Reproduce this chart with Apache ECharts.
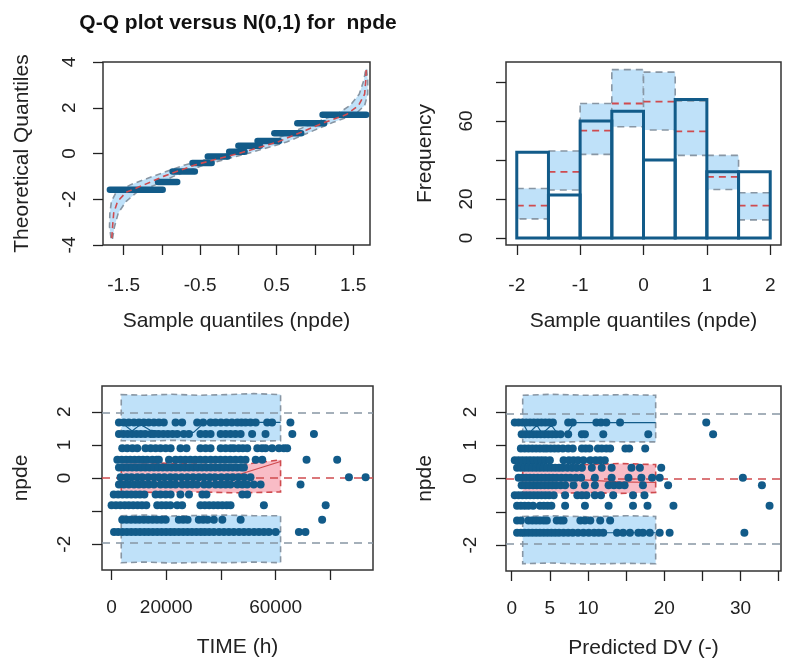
<!DOCTYPE html>
<html>
<head>
<meta charset="utf-8">
<script src="https://cdn.jsdelivr.net/npm/echarts@6.0.0/dist/echarts.min.js"></script>
<style>
  html, body { margin: 0; padding: 0; background: #fff; }
  #chart { width: 786px; height: 664px; }
</style>
</head>
<body>
<div id="chart"></div>
<script>
// ---- QQ plot: observed npde steps (from, to, level)
var qqStepFrom = [-1.68, -1.05, -0.86, -0.60, -0.40, -0.12, 0.00, 0.25, 0.47, 0.77, 1.10];
var qqStepTo   = [-0.99, -0.80, -0.57, -0.35, -0.14, 0.08, 0.28, 0.53, 0.82, 1.12, 1.67];
var qqStepY    = [-1.59, -1.25, -0.79, -0.42, -0.13, 0.08, 0.34, 0.55, 0.89, 1.32, 1.69];

// ---- QQ plot: simulated prediction band, read along theoretical axis
var qqBandY     = [-3.7, -3.2, -2.6, -2.1, -1.7, -1.35, -1.0, -0.5, 0, 0.5, 1.0, 1.35, 1.7, 2.1, 2.6, 3.2, 3.7];
var qqBandLeft  = [-1.665, -1.685, -1.68, -1.66, -1.6, -1.4, -1.12, -0.7, -0.12, 0.39, 0.75, 1.0, 1.28, 1.46, 1.58, 1.64, 1.665];
var qqBandMed   = [-1.655, -1.645, -1.63, -1.58, -1.47, -1.22, -0.98, -0.57, 0, 0.51, 0.87, 1.12, 1.41, 1.57, 1.65, 1.665, 1.67];
var qqBandRight = [-1.645, -1.62, -1.57, -1.47, -1.33, -1.07, -0.85, -0.45, 0.12, 0.63, 0.98, 1.23, 1.52, 1.65, 1.69, 1.69, 1.675];

// ---- histogram
var binLo   = [-2, -1.5, -1, -0.5, 0, 0.5, 1, 1.5];
var binHi   = [-1.5, -1, -0.5, 0, 0.5, 1, 1.5, 2];
var binObs  = [44, 22, 60, 65, 40, 71, 34, 34];
var binPiLo = [9.8, 24.6, 42.9, 57.1, 55.4, 42.4, 24.9, 9.3];
var binPiMd = [16.6, 33.9, 55.1, 69, 70, 54.7, 31.4, 16.6];
var binPiHi = [25.4, 44.6, 69, 86.4, 85.1, 70.3, 42.4, 23.2];

// ---- npde levels for the scatter panels (top to bottom)
var npdeLevels = [1.68, 1.33, 0.9, 0.55, 0.32, 0.02, -0.2, -0.5, -0.82, -1.26, -1.63];

// TIME (h) of each point, one row per npde level
var timeRows = [
  [2700, 4500, 6300, 8200, 10000, 11800, 13600, 15500, 17300, 19100, 23400, 25800, 31300, 33500, 36200, 38000, 40000, 42000, 44000, 46000, 47500, 49000, 50800, 52700, 56900, 58700, 65400],
  [2700, 4300, 5900, 7500, 9100, 10700, 12300, 14300, 15500, 17200, 18900, 20600, 22300, 24000, 26400, 28300, 32500, 34400, 36200, 39900, 41700, 43500, 45300, 47200, 51400, 56300, 66100, 74000],
  [3900, 5700, 7600, 9400, 12400, 14300, 16100, 17900, 19800, 21600, 25200, 27400, 32500, 34400, 36200, 39900, 41700, 43500, 44700, 46500, 48000, 49600, 53300, 55000, 56300, 58700, 61200, 63000, 64200],
  [2100, 3700, 5300, 6800, 8400, 10000, 11500, 13000, 14900, 16500, 17300, 21000, 23400, 25200, 27000, 28800, 30600, 32400, 34300, 36200, 38000, 39800, 41600, 43400, 45300, 47200, 49000, 52700, 55100, 71300, 82500],
  [2700, 4300, 5900, 7500, 9100, 10700, 12300, 13900, 15500, 17100, 18700, 20300, 21900, 23500, 25100, 26700, 28300, 29900, 31500, 33100, 34700, 36300, 37900, 39500, 41100, 42700, 44300, 45900, 47500, 48400],
  [3300, 5500, 7300, 9400, 11200, 13400, 15500, 17300, 19300, 21500, 23400, 25600, 27700, 29800, 31900, 33800, 35900, 37800, 40100, 42300, 44300, 46400, 48500, 50800, 86800, 92900],
  [2700, 4500, 6300, 8200, 10000, 11800, 13600, 15500, 17900, 19800, 21600, 23400, 25800, 27700, 29500, 31300, 33800, 35600, 38000, 39900, 41700, 43500, 46000, 47800, 49600, 52000, 54500, 69100],
  [800, 2400, 4000, 5600, 7200, 8800, 10400, 12000, 16100, 17900, 19800, 21600, 25200, 28300, 33200, 34700, 47800, 49600],
  [0, 1600, 3200, 4800, 6300, 7900, 9500, 11100, 12700, 16700, 18300, 19900, 21500, 24000, 25800, 32500, 34100, 35700, 37300, 38900, 40500, 42100, 43500, 55700, 78300],
  [3900, 5500, 7100, 8700, 10200, 11800, 13400, 15000, 16600, 18200, 19800, 24600, 26200, 27800, 31900, 33500, 35100, 37400, 40500, 47200, 77000],
  [900, 2400, 4000, 5600, 7200, 8800, 10400, 12000, 13500, 15100, 16700, 18300, 19900, 21500, 23000, 24600, 26200, 27800, 29400, 31000, 32600, 34100, 35700, 37400, 39300, 41100, 42900, 44700, 46600, 48400, 50200, 52100, 53900, 55700, 57500, 60000, 68500, 70900]
];

// Predicted DV of each point, one row per npde level
var predRows = [
  [0.4, 0.9, 1.4, 1.9, 2.4, 2.9, 3.4, 3.9, 4.4, 4.9, 5.4, 7.4, 8.0, 11.1, 11.7, 12.4, 14.2, 25.5],
  [1.3, 1.8, 2.3, 2.8, 3.3, 3.8, 4.3, 4.8, 5.3, 5.8, 6.4, 7.4, 9.2, 9.6, 12.0, 17.9, 26.4],
  [1.2, 1.7, 2.2, 2.7, 3.2, 3.7, 4.2, 4.6, 5.1, 5.6, 6.1, 6.7, 7.4, 8.0, 9.2, 9.7, 10.2, 11.3, 11.8, 12.4, 12.9, 14.9, 15.4, 17.5],
  [0.4, 0.9, 1.4, 1.9, 2.4, 2.9, 3.4, 3.9, 4.4, 5.0, 6.8, 7.5, 8.1, 8.7, 9.4, 10.3, 11.0, 11.6, 12.2],
  [0.7, 1.2, 1.7, 2.2, 2.7, 3.2, 3.7, 4.2, 4.7, 5.2, 5.7, 6.2, 6.7, 7.3, 7.9, 8.5, 9.2, 10.5, 11.8, 13.1, 15.7, 16.8, 19.6],
  [0.9, 1.4, 1.9, 2.4, 2.9, 3.4, 3.9, 4.4, 4.9, 5.4, 5.9, 6.5, 7.1, 7.7, 8.4, 9.1, 10.9, 13.1, 15.3, 17.0, 18.4, 19.4, 30.3],
  [1.3, 1.8, 2.3, 2.8, 3.3, 3.8, 4.3, 4.8, 5.3, 5.8, 6.4, 7.0, 8.1, 9.6, 10.9, 12.7, 13.4, 14.1, 14.8, 17.2, 20.5, 32.8],
  [0.4, 0.9, 1.4, 1.9, 2.4, 2.9, 3.4, 3.9, 4.4, 4.9, 5.5, 7.0, 8.6, 9.2, 9.8, 10.9, 11.7, 13.3, 15.9, 17.4],
  [0.7, 1.2, 1.7, 2.2, 2.8, 3.7, 4.2, 4.7, 5.2, 7.0, 9.6, 12.7, 15.9, 17.8, 21.2, 33.8],
  [0.7, 1.2, 2.2, 2.7, 3.2, 3.7, 4.2, 4.6, 5.9, 6.4, 6.8, 9.0, 9.6, 10.3, 11.6, 12.9],
  [0.7, 1.2, 1.7, 2.2, 2.7, 3.2, 3.7, 4.2, 4.7, 5.2, 5.7, 6.2, 6.8, 7.4, 8.0, 8.7, 9.4, 10.1, 10.8, 11.4, 12.0, 13.8, 14.6, 15.5, 16.6, 17.2, 18.1, 19.4, 20.7, 30.5]
];

// ---- prediction bands vs TIME
var timeBandX   = [3540, 12000, 22000, 32000, 42000, 52000, 61800];
var timeUpLo    = [1.13, 1.11, 1.14, 1.12, 1.13, 1.11, 1.13];
var timeUpHi    = [2.52, 2.5, 2.53, 2.5, 2.52, 2.55, 2.52];
var timeDnLo    = [-2.56, -2.54, -2.57, -2.55, -2.56, -2.54, -2.56];
var timeDnHi    = [-1.14, -1.12, -1.15, -1.13, -1.12, -1.14, -1.14];
var timeMidX    = [3540, 17900, 30000, 47200, 61800];
var timeMidLo   = [-0.42, -0.44, -0.42, -0.45, -0.42];
var timeMidHi   = [0.48, 0.45, 0.42, 0.4, 0.55];
var timeMidMed  = [0.1, 0.05, 0.08, 0.12, 0.5];
var timeUpMedX  = [3540, 7500, 10600, 14000, 20000, 30000, 34000, 61800];
var timeUpMedY  = [1.68, 1.42, 1.62, 1.45, 1.38, 1.38, 1.68, 1.68];

// ---- prediction bands vs predicted DV
var predBandX   = [1.44, 5, 10, 15, 18.87];
var predUpLo    = [1.1, 1.08, 1.12, 1.1, 1.1];
var predUpHi    = [2.5, 2.53, 2.5, 2.52, 2.5];
var predDnLo    = [-2.56, -2.54, -2.57, -2.55, -2.56];
var predDnHi    = [-1.14, -1.12, -1.15, -1.12, -1.14];
var predMidX    = [1.44, 6, 10, 14, 18.87];
var predMidLo   = [-0.45, -0.45, -0.42, -0.45, -0.42];
var predMidHi   = [0.38, 0.38, 0.42, 0.45, 0.42];
var predMidMed  = [0.0, -0.02, -0.05, -0.1, -0.12];
var predUpMedX  = [1.44, 2.2, 3.3, 4.0, 5.2, 6.0, 7.2, 8.2, 18.87];
var predUpMedY  = [1.68, 1.35, 1.6, 1.35, 1.6, 1.35, 1.35, 1.68, 1.68];

var fontFam = 'Liberation Sans, Arial, sans-serif';
var ink = '#222';
var dotBlue = '#125b89';
var lightBlue = '#bfe1f9';
var pink = '#f9bcc6';
var grayDash = '#8896a4';
var redDash = '#cf4b4f';

var chart = echarts.init(document.getElementById('chart'), null, { renderer: 'canvas' });

function zip(xs, ys) {
    return xs.map(function (x, i) { return [x, ys[i]]; });
}

function valueAxis(gi, min, max, ticks, labels, name, nameGap, margin, rotate) {
    return {
        type: 'value', gridIndex: gi, min: min, max: max,
        name: name, nameLocation: 'middle', nameGap: nameGap,
        nameTextStyle: { fontSize: 21, color: ink, fontFamily: fontFam },
        axisLine: { show: false, onZero: false },
        axisTick: { show: true, length: 10, customValues: ticks, lineStyle: { color: ink, width: 1.3 } },
        axisLabel: {
            customValues: labels, fontSize: 19, color: ink, fontFamily: fontFam,
            margin: margin, rotate: rotate || 0,
            formatter: function (v) { return String(v); }
        },
        splitLine: { show: false }
    };
}

// polygon band through the axes
function bandSeries(xi, pts, fill, stroke) {
    return {
        type: 'custom', xAxisIndex: xi, yAxisIndex: xi, silent: true, clip: true,
        data: [[0, 0]],
        renderItem: function (params, api) {
            return {
                type: 'polygon',
                shape: { points: pts.map(function (d) { return api.coord(d); }) },
                style: { fill: fill, stroke: stroke, lineWidth: 1.6, lineDash: [6, 4] }
            };
        }
    };
}

function closedBand(xs, lo, hi) {
    return zip(xs, hi).concat(zip(xs, lo).reverse());
}

function lineSeries(xi, data, color, width, type) {
    return {
        type: 'line', xAxisIndex: xi, yAxisIndex: xi, data: data, silent: true,
        showSymbol: false, symbol: 'none', clip: true,
        lineStyle: { color: color, width: width, type: type }
    };
}

function dotsSeries(xi, rows) {
    var pts = [];
    rows.forEach(function (row, i) {
        row.forEach(function (x) { pts.push([x, npdeLevels[i]]); });
    });
    return {
        type: 'scatter', xAxisIndex: xi, yAxisIndex: xi, data: pts, silent: true,
        symbol: 'circle', symbolSize: 8, itemStyle: { color: dotBlue, opacity: 1 }, z: 5
    };
}

function refLines(xi) {
    return {
        type: 'scatter', xAxisIndex: xi, yAxisIndex: xi, data: [], silent: true, z: 4,
        markLine: {
            symbol: 'none', silent: true, label: { show: false },
            data: [
                { yAxis: 1.96, lineStyle: { color: grayDash, type: [8, 6], width: 1.6 } },
                { yAxis: -1.96, lineStyle: { color: grayDash, type: [8, 6], width: 1.6 } },
                { yAxis: 0, lineStyle: { color: redDash, type: [8, 6], width: 1.6 } }
            ]
        }
    };
}

// QQ band as one polygon, left edge going up, right edge coming down
var qqPoly = zip(qqBandLeft, qqBandY).concat(zip(qqBandRight, qqBandY).reverse());

var stepData = qqStepY.map(function (y, i) { return [qqStepFrom[i], qqStepTo[i], y]; });
var histPi = binLo.map(function (lo, i) { return [lo, binHi[i], binPiLo[i], binPiMd[i], binPiHi[i]]; });
var histObs = binLo.map(function (lo, i) { return [lo, binHi[i], binObs[i]]; });

var option = {
    backgroundColor: '#fff',
    animation: false,
    title: {
        text: 'Q-Q plot versus N(0,1) for  npde',
        left: 233, top: 8, textAlign: 'center',
        textStyle: { fontSize: 21, fontWeight: 'bold', color: '#111', fontFamily: fontFam }
    },
    grid: [
        { left: 103, top: 62, width: 267, height: 183 },
        { left: 506, top: 62, width: 275, height: 183 },
        { left: 102, top: 386, width: 271, height: 184 },
        { left: 506, top: 386, width: 275, height: 185 }
    ].map(function (g) {
        g.show = true; g.borderColor = '#333'; g.borderWidth = 1.5; g.backgroundColor = 'transparent';
        return g;
    }),
    xAxis: [
        valueAxis(0, -1.77, 1.72, [-1.5, -1, -0.5, 0, 0.5, 1, 1.5], [-1.5, -0.5, 0.5, 1.5], 'Sample quantiles (npde)', 66, 31),
        valueAxis(1, -2.17, 2.17, [-2, -1, 0, 1, 2], [-2, -1, 0, 1, 2], 'Sample quantiles (npde)', 66, 31),
        valueAxis(2, -3500, 95600, [0, 20000, 40000, 60000, 80000], [0, 20000, 60000], 'TIME (h)', 67, 28),
        valueAxis(3, -0.75, 35.3, [0, 5, 10, 15, 20, 25, 30, 35], [0, 5, 10, 20, 30], 'Predicted DV (-)', 67, 28)
    ],
    yAxis: [
        valueAxis(0, -4, 4, [-4, -2, 0, 2, 4], [-4, -2, 0, 2, 4], 'Theoretical Quantiles', 70, 24, 90),
        valueAxis(1, -3.6, 90.3, [0, 20, 40, 60, 80], [0, 20, 60], 'Frequency', 70, 30, 90),
        valueAxis(2, -2.78, 2.78, [-2, -1, 0, 1, 2], [-2, 0, 1, 2], 'npde', 70, 28, 90),
        valueAxis(3, -2.78, 2.78, [-2, -1, 0, 1, 2], [-2, 0, 1, 2], 'npde', 70, 26, 90)
    ],
    series: [
        // panel 1: QQ plot
        bandSeries(0, qqPoly, lightBlue, grayDash),
        lineSeries(0, zip(qqBandMed, qqBandY), redDash, 1.6, [6, 4]),
        {
            type: 'custom', xAxisIndex: 0, yAxisIndex: 0, data: stepData, silent: true,
            encode: { x: [0, 1], y: 2 },
            renderItem: function (params, api) {
                var a = api.coord([api.value(0), api.value(2)]);
                var b = api.coord([api.value(1), api.value(2)]);
                return {
                    type: 'line', shape: { x1: a[0], y1: a[1], x2: b[0], y2: b[1] },
                    style: { stroke: dotBlue, lineWidth: 6.5, lineCap: 'round' }
                };
            }
        },
        // panel 2: histogram with prediction intervals
        {
            type: 'custom', xAxisIndex: 1, yAxisIndex: 1, data: histPi, silent: true,
            encode: { x: [0, 1], y: [2, 4] },
            renderItem: function (params, api) {
                var tl = api.coord([api.value(0), api.value(4)]);
                var br = api.coord([api.value(1), api.value(2)]);
                var ml = api.coord([api.value(0), api.value(3)]);
                var mr = api.coord([api.value(1), api.value(3)]);
                return {
                    type: 'group', children: [
                        { type: 'rect', shape: { x: tl[0], y: tl[1], width: br[0] - tl[0], height: br[1] - tl[1] },
                          style: { fill: lightBlue, stroke: grayDash, lineWidth: 1.6, lineDash: [7, 5] } },
                        { type: 'line', shape: { x1: ml[0], y1: ml[1], x2: mr[0], y2: mr[1] },
                          style: { stroke: redDash, lineWidth: 1.8, lineDash: [7, 5] } }
                    ]
                };
            }
        },
        {
            type: 'custom', xAxisIndex: 1, yAxisIndex: 1, data: histObs, silent: true,
            encode: { x: [0, 1], y: 2 },
            renderItem: function (params, api) {
                var tl = api.coord([api.value(0), api.value(2)]);
                var br = api.coord([api.value(1), 0]);
                return {
                    type: 'rect', shape: { x: tl[0], y: tl[1], width: br[0] - tl[0], height: br[1] - tl[1] },
                    style: { fill: null, stroke: dotBlue, lineWidth: 3 }
                };
            }
        },
        // panel 3: npde vs TIME
        bandSeries(2, closedBand(timeBandX, timeUpLo, timeUpHi), lightBlue, grayDash),
        bandSeries(2, closedBand(timeBandX, timeDnLo, timeDnHi), lightBlue, grayDash),
        bandSeries(2, closedBand(timeMidX, timeMidLo, timeMidHi), pink, redDash),
        lineSeries(2, zip(timeUpMedX, timeUpMedY), dotBlue, 1.2, 'solid'),
        lineSeries(2, zip(timeBandX, timeBandX.map(function () { return -1.63; })), dotBlue, 1.2, 'solid'),
        lineSeries(2, zip(timeMidX, timeMidMed), redDash, 1.2, 'solid'),
        refLines(2),
        dotsSeries(2, timeRows),
        // panel 4: npde vs predicted DV
        bandSeries(3, closedBand(predBandX, predUpLo, predUpHi), lightBlue, grayDash),
        bandSeries(3, closedBand(predBandX, predDnLo, predDnHi), lightBlue, grayDash),
        bandSeries(3, closedBand(predMidX, predMidLo, predMidHi), pink, redDash),
        lineSeries(3, zip(predUpMedX, predUpMedY), dotBlue, 1.2, 'solid'),
        lineSeries(3, zip(predBandX, predBandX.map(function () { return -1.63; })), dotBlue, 1.2, 'solid'),
        lineSeries(3, zip(predMidX, predMidMed), redDash, 1.2, 'solid'),
        refLines(3),
        dotsSeries(3, predRows)
    ]
};

chart.setOption(option);
</script>
</body>
</html>
